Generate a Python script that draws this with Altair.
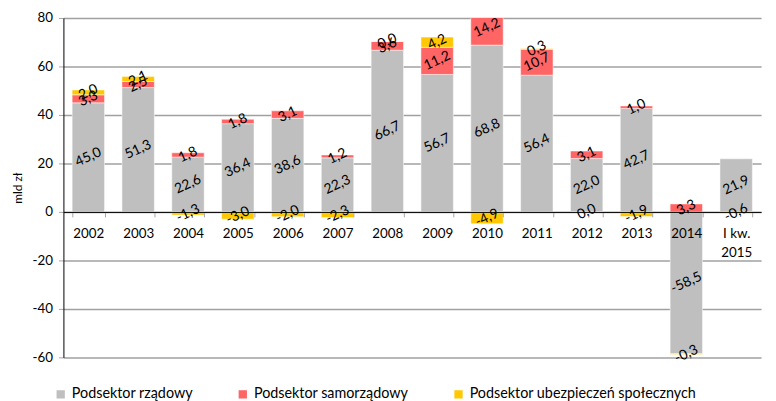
import altair as alt
import pandas as pd

categories = ["2002", "2003", "2004", "2005", "2006", "2007", "2008", "2009",
              "2010", "2011", "2012", "2013", "2014", "I kw. 2015"]
rzadowy = [45.0, 51.3, 22.6, 36.4, 38.6, 22.3, 66.7, 56.7, 68.8, 56.4, 22.0, 42.7, -58.5, 21.9]
samorzadowy = [3.3, 2.5, 1.8, 1.8, 3.1, 1.2, 3.6, 11.2, 14.2, 10.7, 3.1, 1.0, 3.3, None]
ubezpieczenia = [2.0, 2.1, -1.3, -3.0, -2.0, -2.3, 0.0, 4.2, -4.9, 0.3, -0.04, -1.9, -0.3, -0.6]
series = ["Podsektor rządowy", "Podsektor samorządowy", "Podsektor ubezpieczeń społecznych"]
colors = ["#BFBFBF", "#FF6565", "#FFC800"]
y_ticks = [-60, -40, -20, 0, 20, 40, 60, 80]


def fmt(v):
    s = f"{v:.1f}"
    if s == "-0.0":
        s = "0.0"
    return s.replace(".", ",")


rows = []
for i, cat in enumerate(categories):
    for k, vals in enumerate([rzadowy, samorzadowy, ubezpieczenia]):
        v = vals[i]
        if v is None:
            continue
        rows.append({"cat": cat, "series": series[k], "order": k, "value": v, "label": fmt(v)})
df = pd.DataFrame(rows)

FONT = "Lato"

x_enc = alt.X(
    "cat:N",
    sort=categories,
    scale=alt.Scale(paddingInner=0.35, paddingOuter=0.175),
    axis=alt.Axis(
        title=None, orient="bottom", offset=-147, domainColor="black", domainWidth=1,
        tickColor="#A6A6A6", tickSize=5, tickBand="extent", labelAngle=0,
        labelFont=FONT, labelFontSize=13.5, labelColor="black", labelPadding=10,
        labelLineHeight=19,
        labelExpr="datum.value == 'I kw. 2015' ? ['I kw.', '2015'] : datum.label",
        grid=False, zindex=1,
    ),
)

y_scale = alt.Scale(domain=[-60, 80], nice=False)

bars = alt.Chart().mark_bar(stroke="white", strokeWidth=0.5, clip=True).encode(
    x=x_enc,
    y=alt.Y(
        "y0:Q", scale=y_scale,
        axis=alt.Axis(
            title="mld zł", titleFont=FONT, titleFontSize=12, titleFontWeight="normal",
            titleColor="black", titlePadding=8, values=y_ticks,
            labelExpr="'' + datum.value", labelFont=FONT, labelFontSize=13.5,
            labelColor="black", labelPadding=6, tickColor="#A6A6A6", tickSize=5,
            domainColor="black", grid=True, gridColor="#A0A0A0", gridWidth=1.5,
        ),
    ),
    y2="y1:Q",
    color=alt.Color(
        "series:N",
        scale=alt.Scale(domain=series, range=colors),
        legend=alt.Legend(
            title=None, orient="none", direction="horizontal", legendX=-10, legendY=373,
            symbolType="square", symbolSize=70, symbolStrokeWidth=0,
            labelFont=FONT, labelFontSize=14.5, labelColor="black", labelLimit=0,
            columnPadding=43, labelOffset=4,
        ),
    ),
)

texts = alt.Chart().mark_text(
    angle=335, font=FONT, fontSize=14, color="black", baseline="middle", align="center"
).encode(
    x=alt.X("cat:N", sort=categories),
    y=alt.Y("mid:Q", scale=y_scale),
    text="label:N",
)

chart = alt.layer(bars, texts, data=df).transform_stack(
    stack="value", groupby=["cat"], as_=["y0", "y1"],
    sort=[alt.SortField("order", order="ascending")],
).transform_calculate(
    mid="(datum.y0 + datum.y1) / 2"
).properties(
    width=705, height=343, autosize="none",
    padding={"left": 56, "top": 8, "right": 7, "bottom": 42},
).configure_view(stroke=None)

chart.save("out.html", embed_options={"renderer": "svg", "actions": False})
